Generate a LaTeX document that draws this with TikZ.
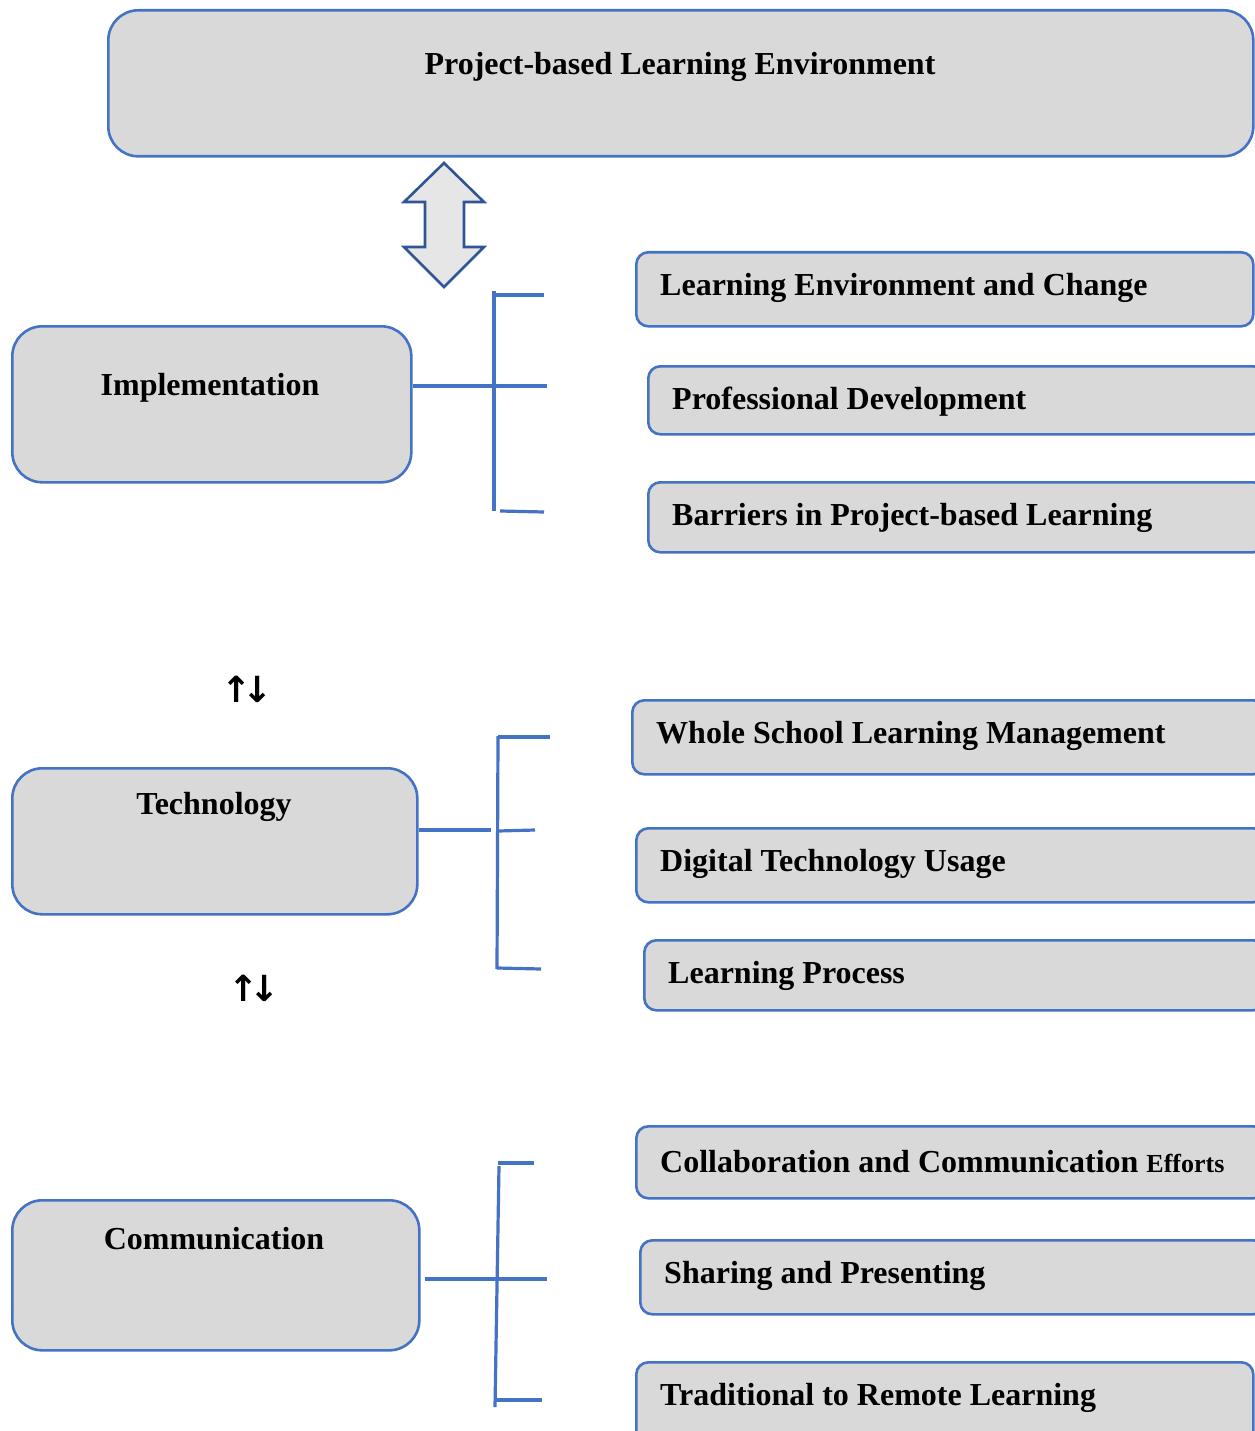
\documentclass[tikz,border=0pt]{standalone}
\usepackage{fontspec}
\setmainfont{Liberation Serif}
\newfontfamily\arrfont{DejaVu Sans}
\definecolor{boxfill}{HTML}{D9D9D9}
\definecolor{boxline}{HTML}{4472C4}
\definecolor{arrline}{HTML}{2F5597}
\definecolor{arrfill}{HTML}{E6E6E6}
\begin{document}
\begin{tikzpicture}[x=1pt,y=-1pt,
  bigbox/.style={draw=boxline,fill=boxfill,line width=2.6pt,rounded corners=30pt,anchor=north west,inner sep=0pt},
  smallbox/.style={draw=boxline,fill=boxfill,line width=2.6pt,rounded corners=12pt,anchor=north west,inner sep=0pt},
  lbl/.style={font=\fontsize{32}{36}\selectfont\bfseries,inner sep=0pt},
  sublbl/.style={lbl,anchor=west},
  conn/.style={draw=boxline,line width=3.2pt},
  updown/.style={font=\arrfont\bfseries\fontsize{36}{40}\selectfont,inner sep=0pt}]
\useasboundingbox (0,0) rectangle (1254,1431);
% top box
\node[bigbox,minimum width=1145pt,minimum height=146pt] (top) at (107,9) {};
\node[lbl] (topT) at (680,67) {Project-based Learning Environment};
% double arrow
\draw[draw=arrline,fill=arrfill,line width=2.6pt,line join=miter]
  (444,163) -- (484,202) -- (464,202) -- (464,247) -- (484,247) -- (444,287)
  -- (404,247) -- (425,247) -- (425,202) -- (404,202) -- cycle;
% main boxes
\node[bigbox,minimum width=399pt,minimum height=156pt] (impl) at (11,325) {};
\node[lbl] (implT) at (210,388) {Implementation};
\node[bigbox,minimum width=405pt,minimum height=146pt] (tech) at (11,767) {};
\node[lbl] (techT) at (214,807) {Technology};
\node[bigbox,minimum width=407pt,minimum height=150pt] (comm) at (11,1199) {};
\node[lbl] (commT) at (214,1239) {Communication};
% up-down arrows
\node[updown] (ud1) at (247,689) {↑\kern-9pt↓};
\node[updown] (ud2) at (254,988) {↑\kern-9pt↓};
% sub boxes group 1
\node[smallbox,minimum width=617pt,minimum height=74pt] (lec) at (635,251) {};
\node[sublbl] (lecT) at (660,288) {Learning Environment and Change};
\node[smallbox,minimum width=617pt,minimum height=68pt] (pd) at (647,365) {};
\node[sublbl] (pdT) at (672,402) {Professional Development};
\node[smallbox,minimum width=617pt,minimum height=70pt] (bar) at (647,481) {};
\node[sublbl] (barT) at (672,518) {Barriers in Project-based Learning};
% sub boxes group 2
\node[smallbox,minimum width=633pt,minimum height=74pt] (wslm) at (631,699) {};
\node[sublbl] (wslmT) at (656,736) {Whole School Learning Management};
\node[smallbox,minimum width=629pt,minimum height=74pt] (dtu) at (635,827) {};
\node[sublbl] (dtuT) at (660,864) {Digital Technology Usage};
\node[smallbox,minimum width=621pt,minimum height=70pt] (lp) at (643,939) {};
\node[sublbl] (lpT) at (668,976) {Learning Process};
% sub boxes group 3
\node[smallbox,minimum width=629pt,minimum height=72pt] (cce) at (635,1125) {};
\node[sublbl] (cceT) at (660,1162) {Collaboration and Communication {\fontsize{26}{30}\selectfont Efforts}};
\node[smallbox,minimum width=625pt,minimum height=74pt] (sp) at (639,1239) {};
\node[sublbl] (spT) at (664,1276) {Sharing and Presenting};
\node[smallbox,minimum width=617pt,minimum height=90pt] (trl) at (635,1361) {};
\node[sublbl] (trlT) at (660,1398) {Traditional to Remote Learning};
% bracket 1
\coordinate (b1t) at (494,291);
\coordinate (b1b) at (494,511);
\coordinate (b1m) at (547,386);
\coordinate (b1a) at (544,295);
\coordinate (b1as) at (494,295);
\coordinate (b1c) at (544,512);
\coordinate (b1cs) at (500,511);
\draw[conn] (b1t) -- (b1b);
\draw[conn] (b1as) -- (b1a);
\draw[conn] (b1cs) -- (b1c);
\draw[conn] (impl.east |- 0,386) -- (b1m);
% bracket 2
\coordinate (b2t) at (498,736);
\coordinate (b2b) at (497,969);
\coordinate (b2a) at (550,737);
\coordinate (b2as) at (498,737);
\coordinate (b2m1) at (491,830);
\coordinate (b2m2s) at (498,831);
\coordinate (b2m2) at (535,830);
\coordinate (b2c) at (541,969);
\coordinate (b2cs) at (497,968);
\draw[conn] (b2t) -- (b2b);
\draw[conn] (b2as) -- (b2a);
\draw[conn] (tech.east |- 0,830) -- (b2m1);
\draw[conn] (b2m2s) -- (b2m2);
\draw[conn] (b2cs) -- (b2c);
% bracket 3
\coordinate (b3t) at (499,1166);
\coordinate (b3b) at (495,1407);
\coordinate (b3a) at (534,1163);
\coordinate (b3as) at (498,1163);
\coordinate (b3ms) at (425,1279);
\coordinate (b3m) at (547,1279);
\coordinate (b3c) at (542,1400);
\coordinate (b3cs) at (496,1400);
\draw[conn] (b3t) -- (b3b);
\draw[conn] (b3as) -- (b3a);
\draw[conn] (b3ms) -- (b3m);
\draw[conn] (b3cs) -- (b3c);
\end{tikzpicture}
\end{document}
